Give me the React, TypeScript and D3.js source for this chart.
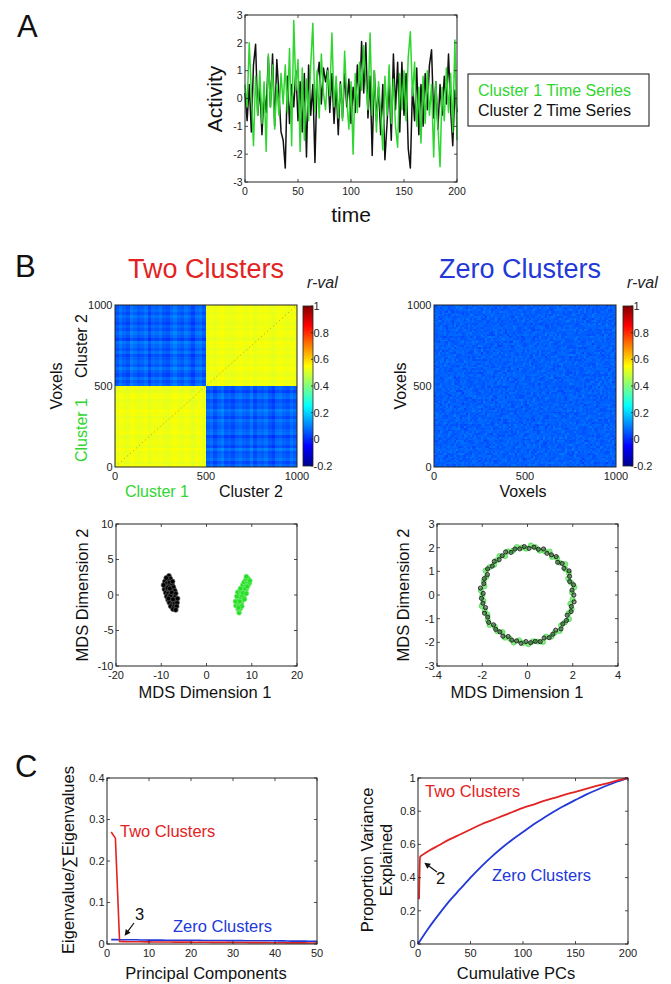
import React from 'react';
import * as d3 from 'd3';

const W = 671;
const H = 984;
const FONT = '"Liberation Sans", Arial, Helvetica, sans-serif';
const GREEN = '#2fd62f';
const RED = '#e32222';
const BLUE = '#2238d8';

// ---- Panel A: time series, one value every 2 time steps (t = 0..200)
const cluster1Series = [
  0.5, -0.3, 2.0, 0.2, -1.7, 0.8, -0.6, 1.0, -0.9, 0.6, -1.9, 1.6, -0.3, 1.2, -1.1, 0.5, -0.6, 0.9, -0.2, 1.2,
  -0.5, 1.8, -1.7, 2.8, 0.3, 1.4, -1.9, 1.1, -1.5, 0.7, -0.8, 1.2, 2.7, -0.5, 1.0, -0.7, 1.6, 0.2, -0.4, 1.0,
  0.1, 2.35, -0.3, 0.8, -0.7, 0.5, -0.8, 1.7, 0.0, -1.1, 0.6, -2.0, 0.9, -0.5, 1.3, 0.3, 1.9, 0.6, -0.4, 2.35,
  -0.6, 1.0, -1.2, 0.6, -0.5, -1.85, 0.8, -0.6, 1.2, -0.9, 0.7, -1.0, -1.75, 0.9, -0.4, 1.0, -0.8, 1.5, 2.4, 0.1,
  1.3, -1.0, 0.4, -1.6, 0.8, -0.9, 1.0, -0.6, 0.5, -2.1, 0.6, -1.0, -2.45, 0.4, -0.8, 1.1, -0.5, 0.9, -1.2, 2.1,
  -1.5,
];
const cluster2Series = [
  0.2, -0.8, 0.5, -1.2, 1.2, 1.95, -0.6, 0.4, -1.3, 0.2, -0.5, 1.5, -0.3, 1.6, -1.0, 1.4, 0.2, -1.2, -1.5, -2.5,
  0.8, -0.9, 0.5, -0.3, 1.0, -0.8, 0.6, -1.2, 0.9, -2.1, 1.2, -0.6, 0.5, -2.3, 0.7, 1.3, -0.2, 1.1, 0.6, 1.1,
  -0.5, 0.9, -0.9, 0.5, -1.3, 0.6, -0.7, 0.9, -0.3, 0.7, -0.9, 0.4, -0.5, 1.2, -0.3, 2.05, 0.2, 2.0, -0.7, 0.8,
  -2.05, 1.0, -0.8, 0.4, -1.3, 0.5, -2.2, -0.9, 0.6, -1.5, 1.6, -0.4, 1.3, -1.2, 1.3, -0.6, 0.9, -1.8, -2.5, 0.4,
  -0.8, 1.1, -1.3, 0.5, -1.0, 0.9, -0.4, 1.2, 1.75, -0.7, 0.6, -1.1, 0.5, -0.6, 0.8, -0.2, 1.6, -0.4, -1.7, 0.3,
  -0.5,
];
const timeTicks = [0, 50, 100, 150, 200];
const activityTicks = [-3, -2, -1, 0, 1, 2, 3];

// ---- Panel B: correlation matrices (block values + row/column texture)
const sameClusterR = 0.53;
const crossClusterR = 0.06;
const zeroClusterR = 0.06;
const rowTexture = [
  0.01, -0.02, 0.02, 0.0, -0.01, 0.03, -0.02, 0.01, 0.0, -0.03, 0.02, 0.01, -0.01, 0.0, 0.02, -0.02, 0.01, 0.03,
  -0.01, 0.0, -0.02, 0.02, 0.01, -0.03, 0.0, 0.01, -0.01, 0.02, -0.02, 0.0, 0.03, -0.01, 0.01, 0.0, -0.02, 0.02,
  -0.01, 0.01, 0.03, -0.03, 0.0, 0.02, -0.01, 0.01, -0.02, 0.0, 0.02, -0.01, 0.01, 0.0,
];
const colTexture = [
  -0.01, 0.02, 0.0, -0.02, 0.03, 0.01, -0.01, 0.0, 0.02, -0.03, 0.01, 0.0, 0.02, -0.01, -0.02, 0.01, 0.03, 0.0,
  -0.01, 0.02, 0.0, -0.03, 0.01, 0.02, -0.01, 0.0, 0.02, -0.02, 0.01, 0.03, -0.01, 0.0, -0.02, 0.01, 0.02, 0.0,
  -0.01, 0.03, -0.02, 0.01, 0.0, 0.02, -0.01, -0.03, 0.01, 0.02, 0.0, -0.01, 0.02, 0.0,
];
const voxelTicks = [0, 500, 1000];
const rValTicks = [-0.2, 0, 0.2, 0.4, 0.6, 0.8, 1];

// MDS coordinates
const mdsCluster2 = [
  [-8.3, 2.7], [-8.0, 2.3], [-8.6, 2.1], [-9.2, 1.9], [-8.8, 1.6], [-8.2, 1.7], [-7.6, 1.5], [-9.0, 1.2],
  [-8.4, 1.2], [-7.8, 1.0], [-7.3, 1.1], [-9.3, 0.8], [-8.7, 0.7], [-8.1, 0.6], [-7.5, 0.5], [-7.0, 0.6],
  [-9.0, 0.3], [-8.5, 0.2], [-7.9, 0.1], [-7.3, 0.0], [-6.8, 0.2], [-8.8, -0.2], [-8.2, -0.3], [-7.6, -0.4],
  [-7.0, -0.3], [-8.5, -0.7], [-7.9, -0.8], [-7.3, -0.9], [-6.7, -0.7], [-8.2, -1.1], [-7.6, -1.3], [-7.0, -1.2],
  [-6.5, -1.1], [-7.9, -1.6], [-7.2, -1.7], [-6.6, -1.6], [-7.4, -2.0], [-6.8, -2.1], [-8.6, 1.0], [-8.0, -0.1],
  [-7.7, 0.4], [-8.4, -0.5], [-7.4, -0.6], [-8.1, 0.9], [-9.5, 1.4], [-6.4, -0.5], [-8.9, 2.4], [-7.5, 1.9],
];
const mdsCluster1 = [
  [7.2, -2.5], [7.0, -2.0], [7.5, -1.9], [6.5, -1.5], [7.1, -1.4], [7.7, -1.2], [6.8, -1.0], [7.4, -0.8],
  [8.0, -0.7], [6.4, -0.9], [7.0, -0.4], [7.6, -0.3], [8.2, -0.2], [7.2, 0.1], [7.8, 0.2], [8.4, 0.3],
  [6.9, 0.4], [7.5, 0.6], [8.1, 0.7], [8.7, 0.6], [7.7, 1.0], [8.3, 1.1], [8.9, 1.0], [8.0, 1.4],
  [8.6, 1.5], [9.2, 1.4], [8.3, 1.8], [8.9, 1.9], [9.5, 1.7], [8.7, 2.2], [9.2, 2.3], [8.8, 2.6],
  [7.3, -0.9], [7.9, -0.1], [8.5, 0.9], [9.0, 1.2], [7.8, -1.6], [7.5, 0.9], [8.0, 0.3], [6.7, -0.2],
  [9.6, 2.0], [8.4, -0.6], [7.1, -1.8], [8.8, 0.2],
];
// zero-cluster MDS ring: [angle in degrees, radius]
const ringCluster2 = [
  [0, 2.05], [6, 1.98], [12, 2.08], [17, 1.95], [23, 2.02], [29, 2.1], [35, 1.97], [41, 2.03], [46, 1.92], [52, 2.06],
  [58, 2.0], [64, 1.96], [70, 2.07], [76, 1.99], [82, 2.04], [88, 1.97], [94, 2.05], [100, 1.98], [106, 2.02], [112, 1.94],
  [118, 2.06], [124, 2.0], [130, 1.95], [136, 2.04], [142, 1.98], [148, 2.08], [154, 1.97], [160, 2.03], [166, 1.99], [172, 2.1],
  [178, 1.96], [184, 2.04], [190, 2.0], [196, 1.93], [202, 2.05], [208, 1.99], [214, 2.07], [220, 1.96], [226, 2.02], [232, 1.98],
  [238, 2.05], [244, 1.95], [250, 2.03], [256, 2.0], [262, 2.06], [268, 1.97], [274, 2.02], [280, 1.99], [286, 2.05], [292, 1.96],
  [298, 2.04], [304, 2.0], [310, 1.94], [316, 2.06], [322, 1.98], [328, 2.03], [334, 1.95], [340, 2.05], [346, 2.0], [352, 2.08],
];
const ringCluster1 = [
  [3, 1.97], [9, 2.1], [15, 2.0], [21, 1.93], [27, 2.05], [33, 2.0], [38, 2.12], [44, 1.97], [50, 2.03], [56, 1.94],
  [62, 2.08], [68, 2.0], [74, 1.95], [80, 2.05], [86, 2.1], [92, 1.96], [97, 2.02], [103, 2.08], [109, 1.98], [115, 2.03],
  [121, 1.92], [127, 2.06], [133, 2.0], [139, 1.95], [145, 2.05], [151, 2.12], [157, 1.97], [163, 2.02], [169, 1.94], [175, 2.06],
  [181, 2.0], [187, 1.96], [193, 2.08], [199, 2.0], [205, 1.95], [211, 2.05], [217, 2.1], [223, 1.97], [229, 2.03], [235, 1.92],
  [241, 2.06], [247, 2.0], [253, 2.1], [259, 1.95], [265, 2.03], [271, 2.08], [277, 1.97], [283, 2.02], [289, 2.1], [295, 1.94],
  [301, 2.05], [307, 2.0], [313, 2.08], [319, 1.96], [325, 2.02], [331, 2.1], [337, 1.97], [343, 2.04], [349, 1.93], [355, 2.0],
];
const mdsTwoXTicks = [-20, -10, 0, 10, 20];
const mdsTwoYTicks = [-10, -5, 0, 5, 10];
const mdsZeroXTicks = [-4, -2, 0, 2, 4];
const mdsZeroYTicks = [-3, -2, -1, 0, 1, 2, 3];

// ---- Panel C: eigen spectra (PC 1..50)
const twoClusterEig = [
  0.27, 0.255, 0.006, 0.0058, 0.0056, 0.0055, 0.0054, 0.0053, 0.0052, 0.0051, 0.005, 0.0049, 0.0048, 0.0048,
  0.0047, 0.0046, 0.0046, 0.0045, 0.0044, 0.0044, 0.0043, 0.0042, 0.0042, 0.0041, 0.004, 0.004, 0.0039, 0.0038,
  0.0038, 0.0037, 0.0036, 0.0036, 0.0035, 0.0034, 0.0034, 0.0033, 0.0032, 0.0032, 0.0031, 0.003, 0.003, 0.0029,
  0.0028, 0.0028, 0.0027, 0.0026, 0.0026, 0.0025, 0.0024, 0.0024,
];
const zeroClusterEig = [
  0.0105, 0.0105, 0.0104, 0.0104, 0.0103, 0.0103, 0.0102, 0.0095, 0.0095, 0.0094, 0.0094, 0.0093, 0.0093, 0.0092,
  0.0092, 0.0091, 0.0091, 0.009, 0.009, 0.0089, 0.0089, 0.0088, 0.0085, 0.0085, 0.0084, 0.0084, 0.0083, 0.0083,
  0.0082, 0.0082, 0.0081, 0.0081, 0.008, 0.008, 0.0079, 0.0079, 0.0078, 0.0078, 0.0077, 0.0077, 0.0076, 0.0076,
  0.0071, 0.007, 0.007, 0.0069, 0.0069, 0.0068, 0.0068, 0.0067,
];
const pcTicks = [0, 10, 20, 30, 40, 50];
const eigTicks = [0, 0.1, 0.2, 0.3, 0.4];

const twoCumPCs = [1, 2, 5, 10, 20, 30, 40, 50, 60, 70, 80, 90, 100, 110, 120, 130, 140, 150, 160, 170, 180, 190, 200];
const twoCumVar = [0.27, 0.525, 0.54, 0.56, 0.595, 0.63, 0.66, 0.69, 0.72, 0.745, 0.77, 0.795, 0.82, 0.84, 0.862, 0.88, 0.9, 0.917, 0.935, 0.952, 0.968, 0.985, 1.0];
const zeroCumPCs = [0, 10, 20, 30, 40, 50, 60, 70, 80, 90, 100, 110, 120, 130, 140, 150, 160, 170, 180, 190, 200];
const zeroCumVar = [0, 0.095, 0.18, 0.26, 0.33, 0.4, 0.465, 0.525, 0.58, 0.63, 0.675, 0.72, 0.76, 0.8, 0.835, 0.868, 0.9, 0.928, 0.955, 0.979, 1.0];
const cumTicks = [0, 50, 100, 150, 200];
const propTicks = [0, 0.2, 0.4, 0.6, 0.8, 1];

// jet colormap over the r-val range
const jetStops = [-0.2, -0.05, 0.25, 0.55, 0.85, 1];
const jetColors = ['#00008f', '#0000ff', '#00ffff', '#ffff00', '#ff0000', '#800000'];
const jet = d3.scaleLinear<string>().domain(jetStops).range(jetColors).interpolate(d3.interpolateRgb).clamp(true);

function Frame({ x, y, xTicks, yTicks, tick = 3, fs = 11 }: any) {
  const [l, r] = x.range();
  const [b, t] = y.range();
  return (
    <g fontSize={fs} fill="#222">
      {tick > 0 && (
        <g stroke="#222" strokeWidth={0.8}>
          {xTicks.map((v: number) => (
            <g key={'x' + v}>
              <line x1={x(v)} x2={x(v)} y1={b} y2={b - tick} />
              <line x1={x(v)} x2={x(v)} y1={t} y2={t + tick} />
            </g>
          ))}
          {yTicks.map((v: number) => (
            <g key={'y' + v}>
              <line x1={l} x2={l + tick} y1={y(v)} y2={y(v)} />
              <line x1={r} x2={r - tick} y1={y(v)} y2={y(v)} />
            </g>
          ))}
        </g>
      )}
      <rect x={l} y={t} width={r - l} height={b - t} fill="none" stroke="#222" strokeWidth={1} />
      {xTicks.map((v: number) => (
        <text key={'xl' + v} x={x(v)} y={b + 12.5} textAnchor="middle">{String(v)}</text>
      ))}
      {yTicks.map((v: number) => (
        <text key={'yl' + v} x={l - 2.5} y={y(v)} dy="0.35em" textAnchor="end">{String(v)}</text>
      ))}
    </g>
  );
}

function Arrow({ x1, y1, x2, y2 }: any) {
  const a = Math.atan2(y2 - y1, x2 - x1);
  const h = 6;
  const w = 3;
  const bx = x2 - h * Math.cos(a);
  const by = y2 - h * Math.sin(a);
  const pts = [
    [x2, y2],
    [bx + w * Math.sin(a), by - w * Math.cos(a)],
    [bx - w * Math.sin(a), by + w * Math.cos(a)],
  ];
  return (
    <g>
      <line x1={x1} y1={y1} x2={bx} y2={by} stroke="#111" strokeWidth={1.2} />
      <polygon points={pts.map((p) => p.join(',')).join(' ')} fill="#111" />
    </g>
  );
}

function Colorbar({ x0, id }: any) {
  const cb = d3.scaleLinear().domain([-0.2, 1]).range([466, 306]);
  return (
    <g>
      <rect x={x0} y={306} width={10} height={160} fill={`url(#${id})`} stroke="#222" strokeWidth={0.8} />
      {rValTicks.map((v) => (
        <g key={v}>
          <line x1={x0 + 10} x2={x0 + 8} y1={cb(v)} y2={cb(v)} stroke="#222" strokeWidth={0.8} />
          <text x={x0 + 10.5} y={cb(v)} dy="0.35em" fontSize={11} fill="#222">{String(v)}</text>
        </g>
      ))}
      <text x={x0 + 4} y={288} fontSize={16} fontStyle="italic" fill="#222">r-val</text>
    </g>
  );
}

function PanelA() {
  const x = d3.scaleLinear().domain([0, 200]).range([245, 457]);
  const y = d3.scaleLinear().domain([-3, 3]).range([182, 15]);
  const line = d3.line<number>().x((_, i) => x(i * 2)).y((d) => y(d));
  return (
    <g>
      <text x={17} y={37} fontSize={31} fill="#111">A</text>
      <path d={line(cluster2Series) || ''} fill="none" stroke="#111" strokeWidth={1.5} strokeLinejoin="round" />
      <path d={line(cluster1Series) || ''} fill="none" stroke={GREEN} strokeWidth={1.5} strokeLinejoin="round" />
      <Frame x={x} y={y} xTicks={timeTicks} yTicks={activityTicks} fs={10.5} />
      <text transform="translate(222,99) rotate(-90)" textAnchor="middle" fontSize={21} fill="#111">Activity</text>
      <text x={351} y={222} textAnchor="middle" fontSize={21} fill="#111">time</text>
      <rect x={468} y={74} width={181} height={52} fill="#fff" stroke="#111" strokeWidth={1} />
      <text x={478} y={96} fontSize={16} fill={GREEN}>Cluster 1 Time Series</text>
      <text x={478} y={116} fontSize={16} fill="#111">Cluster 2 Time Series</text>
    </g>
  );
}

function TwoClusterMatrix() {
  const x = d3.scaleLinear().domain([0, 1000]).range([115, 297]);
  const y = d3.scaleLinear().domain([0, 1000]).range([467, 305]);
  const n = rowTexture.length;
  const step = 1000 / n;
  const cells: any[] = [];
  for (let i = 0; i < n; i++) {
    for (let j = 0; j < n; j++) {
      const same = i < n / 2 === j < n / 2;
      const tex = rowTexture[i] + colTexture[j];
      const v = same ? sameClusterR + 0.35 * tex : crossClusterR + tex;
      cells.push(
        <rect key={i * n + j} x={x(j * step)} y={y((i + 1) * step)} width={x(step) - x(0) + 0.4}
          height={y(0) - y(step) + 0.4} fill={jet(v)} />
      );
    }
  }
  return (
    <g>
      <g shapeRendering="crispEdges">{cells}</g>
      <line x1={x(0)} y1={y(0)} x2={x(1000)} y2={y(1000)} stroke="#b8602a" strokeWidth={1} strokeDasharray="1 3" opacity={0.7} />
      <Frame x={x} y={y} xTicks={voxelTicks} yTicks={voxelTicks} tick={0} />
      <Colorbar x0={303} id="jetL" />
      <text x={206} y={278} textAnchor="middle" fontSize={27} fill={RED}>Two Clusters</text>
      <text transform="translate(56,386) rotate(-90)" textAnchor="middle" dy="0.35em" fontSize={16} fill="#111">Voxels</text>
      <text transform="translate(81,346) rotate(-90)" textAnchor="middle" dy="0.35em" fontSize={16} fill="#111">Cluster 2</text>
      <text transform="translate(81,430) rotate(-90)" textAnchor="middle" dy="0.35em" fontSize={16} fill={GREEN}>Cluster 1</text>
      <text x={157} y={497} textAnchor="middle" fontSize={16} fill={GREEN}>Cluster 1</text>
      <text x={251} y={497} textAnchor="middle" fontSize={16} fill="#111">Cluster 2</text>
    </g>
  );
}

function ZeroClusterMatrix() {
  const x = d3.scaleLinear().domain([0, 1000]).range([434, 616]);
  const y = d3.scaleLinear().domain([0, 1000]).range([467, 305]);
  const n = 90;
  const step = 1000 / n;
  const m = rowTexture.length;
  const cells: any[] = [];
  for (let i = 0; i < n; i++) {
    for (let j = 0; j < n; j++) {
      const a = rowTexture[(i * 31 + j * 17 + ((i * j) % 7)) % m];
      const b = colTexture[(j * 23 + i * 7 + ((i + j) % 5)) % m];
      const v = zeroClusterR + 0.6 * (a + b);
      cells.push(
        <rect key={i * n + j} x={x(j * step)} y={y((i + 1) * step)} width={x(step) - x(0) + 0.4}
          height={y(0) - y(step) + 0.4} fill={jet(v)} />
      );
    }
  }
  return (
    <g>
      <g shapeRendering="crispEdges">{cells}</g>
      <Frame x={x} y={y} xTicks={voxelTicks} yTicks={voxelTicks} tick={0} />
      <Colorbar x0={623} id="jetR" />
      <text x={520} y={278} textAnchor="middle" fontSize={27} fill={BLUE}>Zero Clusters</text>
      <text transform="translate(400,386) rotate(-90)" textAnchor="middle" dy="0.35em" fontSize={16} fill="#111">Voxels</text>
      <text x={523} y={497} textAnchor="middle" fontSize={16} fill="#111">Voxels</text>
    </g>
  );
}

function MdsTwo() {
  const x = d3.scaleLinear().domain([-20, 20]).range([116, 297]);
  const y = d3.scaleLinear().domain([-10, 10]).range([666, 524]);
  return (
    <g>
      {mdsCluster2.map((p, i) => (
        <circle key={'b' + i} cx={x(p[0])} cy={y(p[1])} r={2.4} fill="#000" stroke="#555" strokeWidth={0.7} />
      ))}
      {mdsCluster1.map((p, i) => (
        <circle key={'g' + i} cx={x(p[0])} cy={y(p[1])} r={2.4} fill="#22e022" stroke="#7ae87a" strokeWidth={0.7} />
      ))}
      <Frame x={x} y={y} xTicks={mdsTwoXTicks} yTicks={mdsTwoYTicks} />
      <text transform="translate(82,595) rotate(-90)" textAnchor="middle" dy="0.35em" fontSize={16.5} fill="#111">MDS Dimension 2</text>
      <text x={205} y={698} textAnchor="middle" fontSize={16.5} fill="#111">MDS Dimension 1</text>
    </g>
  );
}

function MdsZero() {
  const x = d3.scaleLinear().domain([-4, 4]).range([437, 618]);
  const y = d3.scaleLinear().domain([-3, 3]).range([666, 524]);
  const pos = (p: number[]) => {
    const a = (p[0] * Math.PI) / 180;
    return [x(p[1] * Math.cos(a)), y(p[1] * Math.sin(a))];
  };
  return (
    <g>
      {ringCluster1.map((p, i) => {
        const [cx, cy] = pos(p);
        return <circle key={'g' + i} cx={cx} cy={cy} r={2.6} fill={GREEN} fillOpacity={0.55} stroke={GREEN} strokeOpacity={0.7} strokeWidth={0.8} />;
      })}
      {ringCluster2.map((p, i) => {
        const [cx, cy] = pos(p);
        return <circle key={'b' + i} cx={cx} cy={cy} r={2.1} fill="#222" fillOpacity={0.45} stroke="#111" strokeWidth={0.8} />;
      })}
      <Frame x={x} y={y} xTicks={mdsZeroXTicks} yTicks={mdsZeroYTicks} />
      <text transform="translate(403,595) rotate(-90)" textAnchor="middle" dy="0.35em" fontSize={16.5} fill="#111">MDS Dimension 2</text>
      <text x={517} y={698} textAnchor="middle" fontSize={16.5} fill="#111">MDS Dimension 1</text>
    </g>
  );
}

function EigenPlot() {
  const x = d3.scaleLinear().domain([0, 50]).range([107, 317]);
  const y = d3.scaleLinear().domain([0, 0.4]).range([944, 778]);
  const line = d3.line<number>().x((_, i) => x(i + 1)).y((d) => y(d));
  return (
    <g>
      <text x={15} y={777} fontSize={31} fill="#111">C</text>
      <path d={line(zeroClusterEig) || ''} fill="none" stroke={BLUE} strokeWidth={1.6} />
      <path d={line(twoClusterEig) || ''} fill="none" stroke={RED} strokeWidth={1.6} />
      <Frame x={x} y={y} xTicks={pcTicks} yTicks={eigTicks} />
      <text x={120} y={837} fontSize={16.5} fill={RED}>Two Clusters</text>
      <text x={173} y={932} fontSize={16.5} fill={BLUE}>Zero Clusters</text>
      <text x={135} y={920} fontSize={16.5} fill="#111">3</text>
      <Arrow x1={134} y1={923} x2={x(4.2)} y2={y(0.02)} />
      <text transform="translate(68,860) rotate(-90)" textAnchor="middle" dy="0.35em" fontSize={16.5} fill="#111">Eigenvalue/∑Eigenvalues</text>
      <text x={206} y={979} textAnchor="middle" fontSize={16.5} fill="#111">Principal Components</text>
    </g>
  );
}

function CumulativePlot() {
  const x = d3.scaleLinear().domain([0, 200]).range([418, 628]);
  const y = d3.scaleLinear().domain([0, 1]).range([944, 778]);
  const twoLine = d3.line<number>().x((_, i) => x(twoCumPCs[i])).y((d) => y(d)).curve(d3.curveMonotoneX);
  const zeroLine = d3.line<number>().x((_, i) => x(zeroCumPCs[i])).y((d) => y(d)).curve(d3.curveMonotoneX);
  return (
    <g>
      <path d={zeroLine(zeroCumVar) || ''} fill="none" stroke={BLUE} strokeWidth={1.8} />
      <path d={twoLine(twoCumVar) || ''} fill="none" stroke={RED} strokeWidth={1.8} />
      <Frame x={x} y={y} xTicks={cumTicks} yTicks={propTicks} />
      <text x={425} y={797} fontSize={16.5} fill={RED}>Two Clusters</text>
      <text x={492} y={881} fontSize={16.5} fill={BLUE}>Zero Clusters</text>
      <text x={436} y={884} fontSize={16.5} fill="#111">2</text>
      <Arrow x1={437} y1={872} x2={x(6)} y2={y(0.49)} />
      <text transform="translate(367,860) rotate(-90)" textAnchor="middle" dy="0.35em" fontSize={16.5} fill="#111">Proportion Variance</text>
      <text transform="translate(386,860) rotate(-90)" textAnchor="middle" dy="0.35em" fontSize={16.5} fill="#111">Explained</text>
      <text x={516} y={979} textAnchor="middle" fontSize={16.5} fill="#111">Cumulative PCs</text>
    </g>
  );
}

function JetGradient({ id }: any) {
  return (
    <linearGradient id={id} x1="0" y1="1" x2="0" y2="0">
      {jetStops.map((s, i) => (
        <stop key={i} offset={(s + 0.2) / 1.2} stopColor={jetColors[i]} />
      ))}
    </linearGradient>
  );
}

export default function App() {
  return (
    <svg width={W} height={H} viewBox={`0 0 ${W} ${H}`} fontFamily={FONT}
      style={{ position: 'absolute', left: 0, top: 0, background: '#fff' }}>
      <defs>
        <JetGradient id="jetL" />
        <JetGradient id="jetR" />
      </defs>
      <rect width={W} height={H} fill="#fff" />
      <PanelA />
      <text x={15} y={277} fontSize={31} fill="#111">B</text>
      <TwoClusterMatrix />
      <ZeroClusterMatrix />
      <MdsTwo />
      <MdsZero />
      <EigenPlot />
      <CumulativePlot />
    </svg>
  );
}
